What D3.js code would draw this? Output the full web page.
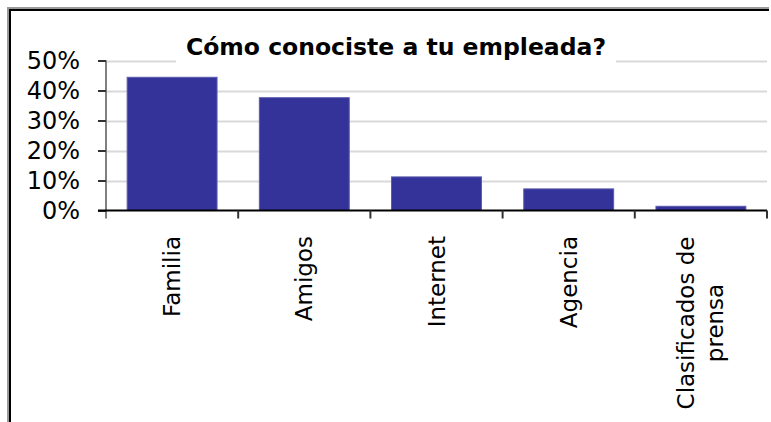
<!DOCTYPE html>
<html>
<head>
<meta charset="utf-8">
<script src="https://cdn.jsdelivr.net/npm/d3@7"></script>
<style>
  html, body { margin: 0; background: #fff; overflow: hidden; }
  svg { display: block; font-family: "DejaVu Sans", sans-serif; overflow: hidden; }
</style>
</head>
<body>
<div id="chart"></div>
<script>
const title = 'Cómo conociste a tu empleada?';
const categories = ['Familia', 'Amigos', 'Internet', 'Agencia', 'Clasificados de prensa'];
const labelLines = [['Familia'], ['Amigos'], ['Internet'], ['Agencia'], ['Clasificados de', 'prensa']];
const values = [0.444, 0.376, 0.112, 0.072, 0.014];
const yTicks = [0, 0.1, 0.2, 0.3, 0.4, 0.5];

const width = 771;
const height = 422;
const margin = { top: 60, right: 4, bottom: 212, left: 106 };

const svg = d3.select('#chart')
  .append('svg')
  .attr('width', width)
  .attr('height', height);

// outer frame (black line with a soft grey edge)
const frame = svg.append('g');
frame.append('path')
  .attr('d', `M9,${height}V9H${width}`)
  .attr('fill', 'none')
  .attr('stroke', '#9a9a9a')
  .attr('stroke-width', 4);
frame.append('path')
  .attr('d', `M10,${height}V10H${width}`)
  .attr('fill', 'none')
  .attr('stroke', '#000')
  .attr('stroke-width', 2);

const x = d3.scaleBand()
  .domain(categories)
  .range([margin.left, width - margin.right])
  .paddingInner(0.32)
  .paddingOuter(0.16);

const y = d3.scaleLinear()
  .domain([0, 0.5])
  .range([height - margin.bottom + 0.5, margin.top + 0.5]);

// grid
svg.append('g')
  .selectAll('line')
  .data(yTicks.slice(1))
  .join('line')
  .attr('x1', margin.left)
  .attr('x2', width - margin.right)
  .attr('y1', (d) => Math.round(y(d)) + 0.5)
  .attr('y2', (d) => Math.round(y(d)) + 0.5)
  .attr('stroke', '#d9d9d9')
  .attr('stroke-width', 2);

// bars
svg.append('g')
  .selectAll('rect')
  .data(values)
  .join('rect')
  .attr('x', (d, i) => x(categories[i]))
  .attr('y', (d) => y(d))
  .attr('width', x.bandwidth())
  .attr('height', (d) => y(0) - y(d))
  .attr('fill', '#333399')
  .attr('stroke', '#5b5bb0')
  .attr('stroke-width', 1);

// title with white backing that hides the top grid line
const titleG = svg.append('g');
const titleText = titleG.append('text')
  .attr('x', 396)
  .attr('y', 55)
  .attr('text-anchor', 'middle')
  .attr('font-weight', 'bold')
  .attr('font-size', 23.5)
  .attr('fill', '#000')
  .text(title);
const bb = titleText.node().getBBox();
titleG.insert('rect', 'text')
  .attr('x', bb.x - 10)
  .attr('y', bb.y)
  .attr('width', bb.width + 20)
  .attr('height', bb.height + 6)
  .attr('fill', '#fff');

// y axis
const yAxis = d3.axisLeft(y)
  .tickValues(yTicks)
  .tickFormat(d3.format('.0%'))
  .tickSize(8)
  .tickPadding(18);

svg.append('g')
  .attr('transform', `translate(${margin.left},0)`)
  .call(yAxis)
  .call((g) => g.select('.domain').attr('stroke', '#808080').attr('stroke-width', 2)
    .attr('d', `M0,${y(0.5)}V${y(0) + 8}`))
  .call((g) => g.selectAll('.tick line').attr('stroke', '#333').attr('stroke-width', 2))
  .call((g) => g.selectAll('.tick text')
    .attr('font-size', 24)
    .attr('fill', '#000')
    .attr('font-family', '"DejaVu Sans", sans-serif'));

// x axis line and boundary ticks
const xBase = y(0);
const bounds = categories.map((c) => x(c) - x.step() * x.paddingInner() / 2)
  .concat([width - margin.right]);
bounds[0] = margin.left;

svg.append('line')
  .attr('x1', margin.left - 8)
  .attr('x2', width - margin.right)
  .attr('y1', xBase)
  .attr('y2', xBase)
  .attr('stroke', '#000')
  .attr('stroke-width', 2);

svg.append('g')
  .selectAll('line')
  .data(bounds.slice(1))
  .join('line')
  .attr('x1', (d) => d)
  .attr('x2', (d) => d)
  .attr('y1', xBase)
  .attr('y2', xBase + 8)
  .attr('stroke', '#333')
  .attr('stroke-width', 2);

// rotated category labels
const lineH = 29;
svg.append('g')
  .selectAll('text')
  .data(labelLines)
  .join('text')
  .attr('transform', (d, i) => {
    const cx = x(categories[i]) + x.bandwidth() / 2;
    return `translate(${cx},236) rotate(-90)`;
  })
  .attr('font-size', 23)
  .attr('fill', '#000')
  .each(function (lines) {
    const t = d3.select(this);
    if (lines.length === 1) {
      t.attr('text-anchor', 'end')
        .append('tspan')
        .attr('x', 0)
        .attr('dy', '0.35em')
        .text(lines[0]);
    } else {
      t.attr('text-anchor', 'middle');
      lines.forEach((ln, k) => {
        t.append('tspan')
          .attr('x', -87)
          .attr('y', (k - (lines.length - 1) / 2) * lineH)
          .attr('dy', '0.35em')
          .text(ln);
      });
    }
  });

// keep the far right edge clear
svg.append('rect')
  .attr('x', width - 2)
  .attr('y', 0)
  .attr('width', 2)
  .attr('height', height)
  .attr('fill', '#fff');
</script>
</body>
</html>
